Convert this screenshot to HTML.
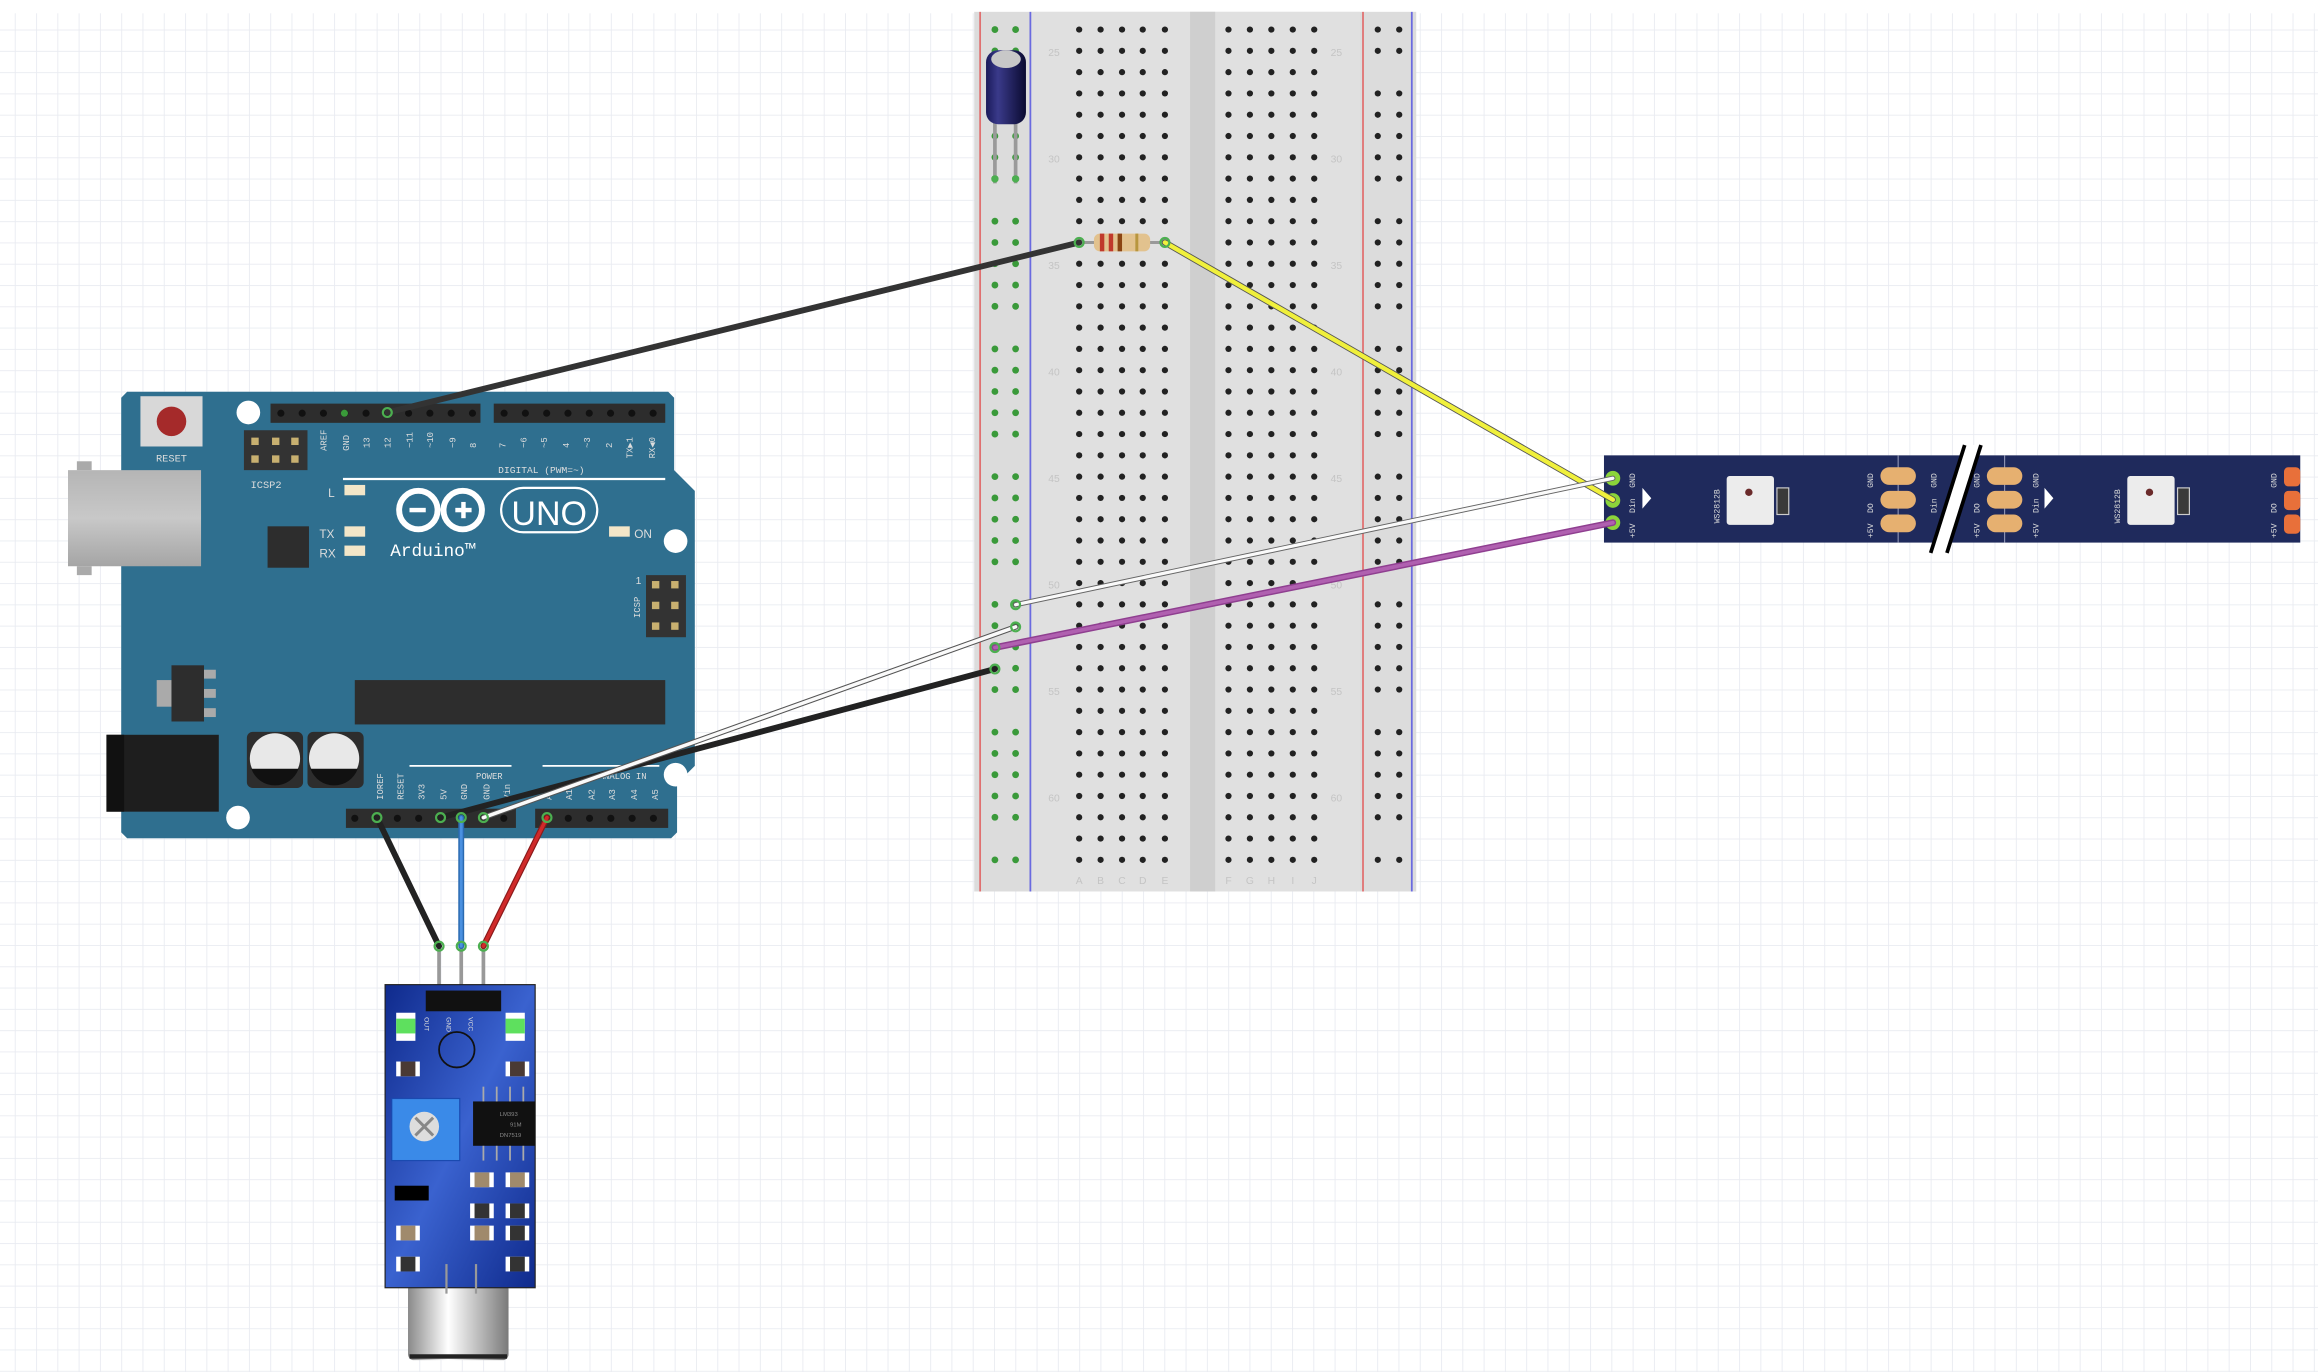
<!DOCTYPE html>
<html><head><meta charset="utf-8"><style>html,body{margin:0;padding:0;background:#fff}svg{display:block}</style></head>
<body>
<svg width="2318" height="1372" viewBox="0 0 1568 928" preserveAspectRatio="none" xmlns="http://www.w3.org/2000/svg" font-family="Liberation Sans, sans-serif">
<defs>
<pattern id="grid" x="10" y="20" width="14.4" height="14.4" patternUnits="userSpaceOnUse">
<path d="M0 0H14.4M0 0V14.4" stroke="#e9ebf1" stroke-width="1.2" fill="none"/>
</pattern>
<linearGradient id="sens" x1="0" y1="0" x2="1" y2="1"><stop offset="0" stop-color="#0f2a8c"/><stop offset="0.5" stop-color="#3a62cf"/><stop offset="1" stop-color="#0f2a8c"/></linearGradient>
<linearGradient id="mic" x1="0" y1="0" x2="1" y2="0"><stop offset="0" stop-color="#8a8a8a"/><stop offset="0.4" stop-color="#ffffff"/><stop offset="1" stop-color="#7a7a7a"/></linearGradient>
<linearGradient id="usb" x1="0" y1="0" x2="0" y2="1"><stop offset="0" stop-color="#b5b5b5"/><stop offset="0.5" stop-color="#c8c8c8"/><stop offset="1" stop-color="#a5a5a5"/></linearGradient>
<linearGradient id="cap" x1="0" y1="0" x2="1" y2="0"><stop offset="0" stop-color="#1a1a5a"/><stop offset="0.3" stop-color="#3a3a8a"/><stop offset="1" stop-color="#0a0a30"/></linearGradient>
</defs>
<rect x="0" y="0" width="1568" height="928" fill="#fff"/>
<rect x="0" y="9" width="1568" height="919" fill="url(#grid)"/>

<g id="bb">
<rect x="659" y="8" width="299" height="595" fill="#dcdcdc"/>
<rect x="697" y="8" width="223" height="595" fill="#e0e0e0"/>
<rect x="805" y="8" width="17" height="595" fill="#cfcfcf"/>
<line x1="663" y1="8" x2="663" y2="603" stroke="#e07070" stroke-width="1.2"/>
<line x1="697" y1="8" x2="697" y2="603" stroke="#6a6ae0" stroke-width="1.2"/>
<line x1="922" y1="8" x2="922" y2="603" stroke="#e07070" stroke-width="1.2"/>
<line x1="955" y1="8" x2="955" y2="603" stroke="#6a6ae0" stroke-width="1.2"/>
<g id="holes"></g>
<g fill="#c4c4c4" font-size="7" text-anchor="middle">
<text x="713" y="38">25</text><text x="713" y="110">30</text><text x="713" y="182">35</text><text x="713" y="254">40</text><text x="713" y="326">45</text><text x="713" y="398">50</text><text x="713" y="470">55</text><text x="713" y="542">60</text>
<text x="904" y="38">25</text><text x="904" y="110">30</text><text x="904" y="182">35</text><text x="904" y="254">40</text><text x="904" y="326">45</text><text x="904" y="398">50</text><text x="904" y="470">55</text><text x="904" y="542">60</text>
<text x="730" y="598">A</text><text x="744.5" y="598">B</text><text x="759" y="598">C</text><text x="773" y="598">D</text><text x="788" y="598">E</text>
<text x="831" y="598">F</text><text x="845.5" y="598">G</text><text x="860" y="598">H</text><text x="874.5" y="598">I</text><text x="889" y="598">J</text>
</g>
</g>

<line x1="673" y1="80" x2="673" y2="124" stroke="#9a9a9a" stroke-width="2.5"/>
<line x1="687" y1="80" x2="687" y2="124" stroke="#9a9a9a" stroke-width="2.5"/>
<circle cx="673" cy="121" r="2.5" fill="#4caf50"/><circle cx="687" cy="121" r="2.5" fill="#4caf50"/>
<rect x="667" y="34" width="27" height="50" rx="8" fill="url(#cap)"/>
<ellipse cx="680.5" cy="40" rx="10" ry="6" fill="#c8c8c8"/>

<line x1="730" y1="164" x2="788" y2="164" stroke="#999" stroke-width="2"/>
<rect x="740" y="158" width="38" height="12" rx="4" fill="#e2c28e"/>
<rect x="744" y="158" width="3" height="12" fill="#c0392b"/>
<rect x="750" y="158" width="3" height="12" fill="#c0392b"/>
<rect x="756" y="158" width="3" height="12" fill="#8b4513"/>
<rect x="768" y="158" width="2" height="12" fill="#b8963e"/>

<g id="ard">
<path d="M86 265 H452 L456 269 V318 L470 332 V518 L458 530 V563 L454 567 H86 L82 563 V269 Z" fill="#2f6f8f"/>
<rect x="46" y="318" width="90" height="65" fill="url(#usb)"/>
<rect x="52" y="312" width="10" height="6" fill="#aaa"/><rect x="52" y="383" width="10" height="6" fill="#aaa"/>
<rect x="72" y="497" width="76" height="52" fill="#1e1e1e"/>
<rect x="72" y="497" width="12" height="52" fill="#111"/>
<rect x="95" y="268" width="42" height="34" fill="#d8d8d8"/>
<circle cx="116" cy="285" r="10" fill="#a52a2a"/>
<text x="116" y="312" font-size="7" fill="#ddd" text-anchor="middle" font-family="Liberation Mono, monospace">RESET</text>
<circle cx="168" cy="279" r="8" fill="#fff"/>
<circle cx="457" cy="366" r="8" fill="#fff"/>
<circle cx="457" cy="524" r="8" fill="#fff"/>
<circle cx="161" cy="553" r="8" fill="#fff"/>
<rect x="165" y="291" width="43" height="27" fill="#333"/>
<g fill="#c8b070"><rect x="170" y="296" width="5" height="5"/><rect x="184" y="296" width="5" height="5"/><rect x="197" y="296" width="5" height="5"/><rect x="170" y="308" width="5" height="5"/><rect x="184" y="308" width="5" height="5"/><rect x="197" y="308" width="5" height="5"/></g>
<text x="180" y="330" font-size="7" fill="#ddd" text-anchor="middle" font-family="Liberation Mono, monospace">ICSP2</text>
<rect x="437" y="389" width="27" height="42" fill="#333"/>
<g fill="#c8b070"><rect x="441" y="393" width="5" height="5"/><rect x="454" y="393" width="5" height="5"/><rect x="441" y="407" width="5" height="5"/><rect x="454" y="407" width="5" height="5"/><rect x="441" y="421" width="5" height="5"/><rect x="454" y="421" width="5" height="5"/></g>
<text x="430" y="395" font-size="7" fill="#ddd">1</text>
<text x="433" y="418" font-size="6" fill="#ddd" transform="rotate(-90 433 418)" font-family="Liberation Mono, monospace">ICSP</text>
<rect x="183" y="273" width="142" height="13" fill="#2d2d2d"/>
<rect x="334" y="273" width="116" height="13" fill="#2d2d2d"/>
<g id="toppins"></g>
<rect x="234" y="547" width="115" height="13" fill="#2d2d2d"/>
<rect x="362" y="547" width="90" height="13" fill="#2d2d2d"/>
<g id="botpins"></g>
<g font-size="6" fill="#ddd" font-family="Liberation Mono, monospace">
<text x="221" y="305" transform="rotate(-90 221 305)">AREF</text>
<text x="236" y="305" transform="rotate(-90 236 305)">GND</text>
<text x="250" y="303" transform="rotate(-90 250 303)">13</text>
<text x="264" y="303" transform="rotate(-90 264 303)">12</text>
<text x="279" y="303" transform="rotate(-90 279 303)">~11</text>
<text x="293" y="303" transform="rotate(-90 293 303)">~10</text>
<text x="308" y="303" transform="rotate(-90 308 303)">~9</text>
<text x="322" y="303" transform="rotate(-90 322 303)">8</text>
<text x="342" y="303" transform="rotate(-90 342 303)">7</text>
<text x="356" y="303" transform="rotate(-90 356 303)">~6</text>
<text x="370" y="303" transform="rotate(-90 370 303)">~5</text>
<text x="385" y="303" transform="rotate(-90 385 303)">4</text>
<text x="399" y="303" transform="rotate(-90 399 303)">~3</text>
<text x="414" y="303" transform="rotate(-90 414 303)">2</text>
<text x="428" y="310" transform="rotate(-90 428 310)">TX▶1</text>
<text x="443" y="310" transform="rotate(-90 443 310)">RX◀0</text>
<text x="337" y="320" font-size="6.5">DIGITAL (PWM=~)</text>
<text x="259" y="541" transform="rotate(-90 259 541)">IOREF</text>
<text x="273" y="541" transform="rotate(-90 273 541)">RESET</text>
<text x="287" y="541" transform="rotate(-90 287 541)">3V3</text>
<text x="302" y="541" transform="rotate(-90 302 541)">5V</text>
<text x="316" y="541" transform="rotate(-90 316 541)">GND</text>
<text x="331" y="541" transform="rotate(-90 331 541)">GND</text>
<text x="345" y="541" transform="rotate(-90 345 541)">Vin</text>
<text x="322" y="527">POWER</text>
<text x="405" y="527">ANALOG IN</text>
<text x="373" y="541" transform="rotate(-90 373 541)">A0</text>
<text x="387" y="541" transform="rotate(-90 387 541)">A1</text>
<text x="402" y="541" transform="rotate(-90 402 541)">A2</text>
<text x="416" y="541" transform="rotate(-90 416 541)">A3</text>
<text x="431" y="541" transform="rotate(-90 431 541)">A4</text>
<text x="445" y="541" transform="rotate(-90 445 541)">A5</text>
</g>
<line x1="232" y1="324" x2="450" y2="324" stroke="#fff" stroke-width="1.5"/>
<line x1="277" y1="518" x2="346" y2="518" stroke="#fff" stroke-width="1.2"/>
<line x1="367" y1="518" x2="446" y2="518" stroke="#fff" stroke-width="1.2"/>
<rect x="233" y="328" width="14" height="7" fill="#f3e6c8"/><text x="222" y="336" font-size="8" fill="#ddd">L</text>
<rect x="233" y="356" width="14" height="7" fill="#f3e6c8"/><text x="216" y="364" font-size="8" fill="#ddd">TX</text>
<rect x="233" y="369" width="14" height="7" fill="#f3e6c8"/><text x="216" y="377" font-size="8" fill="#ddd">RX</text>
<rect x="412" y="356" width="14" height="7" fill="#f3e6c8"/><text x="429" y="364" font-size="8" fill="#ddd">ON</text>
<rect x="181" y="356" width="28" height="28" fill="#2d2d2d"/>
<g fill="none" stroke="#fff" stroke-width="4">
<circle cx="283" cy="345" r="13"/><circle cx="313" cy="345" r="13"/>
</g>
<rect x="277" y="343.5" width="11" height="3" fill="#fff"/>
<rect x="308" y="343.5" width="11" height="3" fill="#fff"/><rect x="312" y="339.5" width="3" height="11" fill="#fff"/>
<rect x="339" y="330" width="65" height="30" rx="15" fill="none" stroke="#fff" stroke-width="1.5"/>
<text x="371.5" y="355" font-size="23" fill="#fff" text-anchor="middle">UNO</text>
<text x="264" y="376" font-size="12" fill="#fff" font-family="Liberation Mono, monospace">Arduino™</text>
<rect x="106" y="460" width="10" height="18" fill="#aaa"/>
<rect x="116" y="450" width="22" height="38" fill="#2d2d2d"/>
<rect x="138" y="453" width="8" height="6" fill="#aaa"/><rect x="138" y="466" width="8" height="6" fill="#aaa"/><rect x="138" y="479" width="8" height="6" fill="#aaa"/>
<rect x="240" y="460" width="210" height="30" fill="#2d2d2d"/>
<rect x="167" y="495" width="38" height="38" rx="4" fill="#2d2d2d"/>
<rect x="208" y="495" width="38" height="38" rx="4" fill="#2d2d2d"/>
<circle cx="186" cy="513" r="17" fill="#e8e8e8"/><circle cx="226" cy="513" r="17" fill="#e8e8e8"/>
<path d="M170 520 A17 17 0 0 0 202 520 Z" fill="#111"/>
<path d="M210 520 A17 17 0 0 0 242 520 Z" fill="#111"/>
</g>

<g id="strip">
<rect x="1085" y="308" width="471" height="59" fill="#1f2a5c"/>
<line x1="1284" y1="308" x2="1284" y2="367" stroke="#8a90b0" stroke-width="0.8"/>
<line x1="1356" y1="308" x2="1356" y2="367" stroke="#8a90b0" stroke-width="0.8"/>
<g fill="#e6b070">
<rect x="1272" y="316" width="24" height="12" rx="6"/><rect x="1272" y="332" width="24" height="12" rx="6"/><rect x="1272" y="348" width="24" height="12" rx="6"/>
<rect x="1344" y="316" width="24" height="12" rx="6"/><rect x="1344" y="332" width="24" height="12" rx="6"/><rect x="1344" y="348" width="24" height="12" rx="6"/>
</g>
<g fill="#e8703a"><rect x="1545" y="316" width="11" height="13" rx="3"/><rect x="1545" y="332" width="11" height="13" rx="3"/><rect x="1545" y="348" width="11" height="13" rx="3"/></g>
<rect x="1168" y="322" width="32" height="33" rx="2" fill="#ececec"/>
<circle cx="1183" cy="333" r="2.5" fill="#6a2a2a"/>
<rect x="1202" y="330" width="8" height="18" fill="#3a3a3a" stroke="#ccc" stroke-width="0.8"/>
<rect x="1439" y="322" width="32" height="33" rx="2" fill="#ececec"/>
<circle cx="1454" cy="333" r="2.5" fill="#6a2a2a"/>
<rect x="1473" y="330" width="8" height="18" fill="#3a3a3a" stroke="#ccc" stroke-width="0.8"/>
<polygon points="1111,330 1117,337 1111,344" fill="#fff"/>
<polygon points="1383,330 1389,337 1383,344" fill="#fff"/>
<g font-size="5.5" fill="#ddd" font-family="Liberation Mono, monospace">
<text x="1106" y="330" transform="rotate(-90 1106 330)">GND</text>
<text x="1106" y="347" transform="rotate(-90 1106 347)">Din</text>
<text x="1106" y="364" transform="rotate(-90 1106 364)">+5V</text>
<text x="1163" y="354" transform="rotate(-90 1163 354)">WS2812B</text>
<text x="1267" y="330" transform="rotate(-90 1267 330)">GND</text>
<text x="1267" y="347" transform="rotate(-90 1267 347)">DO</text>
<text x="1267" y="364" transform="rotate(-90 1267 364)">+5V</text>
<text x="1310" y="330" transform="rotate(-90 1310 330)">GND</text>
<text x="1310" y="347" transform="rotate(-90 1310 347)">Din</text>
<text x="1339" y="330" transform="rotate(-90 1339 330)">GND</text>
<text x="1339" y="347" transform="rotate(-90 1339 347)">DO</text>
<text x="1339" y="364" transform="rotate(-90 1339 364)">+5V</text>
<text x="1379" y="330" transform="rotate(-90 1379 330)">GND</text>
<text x="1379" y="347" transform="rotate(-90 1379 347)">Din</text>
<text x="1379" y="364" transform="rotate(-90 1379 364)">+5V</text>
<text x="1434" y="354" transform="rotate(-90 1434 354)">WS2812B</text>
<text x="1540" y="330" transform="rotate(-90 1540 330)">GND</text>
<text x="1540" y="347" transform="rotate(-90 1540 347)">DO</text>
<text x="1540" y="364" transform="rotate(-90 1540 364)">+5V</text>
</g>
<polygon points="1329,301 1340,301 1317,374 1306,374" fill="#fff"/>
<line x1="1329" y1="301" x2="1306" y2="374" stroke="#000" stroke-width="2.5"/>
<line x1="1340" y1="301" x2="1317" y2="374" stroke="#000" stroke-width="2.5"/>
<circle cx="1091" cy="323.5" r="5" fill="#8bd43a"/>
<circle cx="1091" cy="338.5" r="5" fill="#8bd43a"/>
<circle cx="1091" cy="353.5" r="5" fill="#8bd43a"/>
</g>

<g id="sensor">
<line x1="297" y1="640" x2="297" y2="675" stroke="#999" stroke-width="2.5"/>
<line x1="312" y1="640" x2="312" y2="675" stroke="#999" stroke-width="2.5"/>
<line x1="327" y1="640" x2="327" y2="675" stroke="#999" stroke-width="2.5"/>
<rect x="276" y="868" width="68" height="52" rx="4" fill="url(#mic)"/>
<rect x="277" y="916" width="66" height="3" fill="#222"/>
<rect x="260.5" y="666" width="101.5" height="205" fill="url(#sens)" stroke="#222" stroke-width="0.8"/>
<line x1="302" y1="855" x2="302" y2="875" stroke="#999" stroke-width="1.5"/>
<line x1="322" y1="855" x2="322" y2="875" stroke="#999" stroke-width="1.5"/>
<rect x="288" y="670" width="51" height="14" fill="#111"/>
<g font-size="4.5" fill="#ddd"><text x="295" y="696" transform="rotate(90 295 688)">OUT</text><text x="310" y="696" transform="rotate(90 310 688)">GND</text><text x="325" y="696" transform="rotate(90 325 688)">VCC</text></g>
<rect x="268" y="685" width="13" height="19" fill="#fff"/><rect x="268" y="689" width="13" height="10" fill="#5ee05e"/>
<rect x="342" y="685" width="13" height="19" fill="#fff"/><rect x="342" y="689" width="13" height="10" fill="#5ee05e"/>
<circle cx="309" cy="710" r="12" fill="none" stroke="#111" stroke-width="1.2"/>
<rect x="265" y="743" width="46" height="42" fill="#3a8ae8" stroke="#1a4ab0" stroke-width="0.8"/>
<circle cx="287" cy="762" r="10" fill="#ddd"/>
<path d="M281 756L293 768M293 756L281 768" stroke="#888" stroke-width="2"/>
<rect x="320" y="745" width="42" height="30" fill="#111"/>
<g font-size="4" fill="#888"><text x="338" y="755">LM393</text><text x="345" y="762">91M</text><text x="338" y="769">DN7519</text></g>
<g stroke="#aaa" stroke-width="1.2"><line x1="327" y1="735" x2="327" y2="745"/><line x1="336" y1="735" x2="336" y2="745"/><line x1="345" y1="735" x2="345" y2="745"/><line x1="354" y1="735" x2="354" y2="745"/><line x1="327" y1="775" x2="327" y2="785"/><line x1="336" y1="775" x2="336" y2="785"/><line x1="345" y1="775" x2="345" y2="785"/><line x1="354" y1="775" x2="354" y2="785"/></g>
<rect x="267" y="802" width="23" height="10" fill="#000"/>
<g id="smd"></g>
</g>

<g stroke-linecap="round" fill="none">
<line x1="262" y1="279" x2="730" y2="164" stroke="#333" stroke-width="4"/>
<line x1="788" y1="164" x2="1091" y2="338" stroke="#555" stroke-width="4.2"/>
<line x1="788" y1="164" x2="1091" y2="338" stroke="#f0f03c" stroke-width="3"/>
<line x1="687" y1="409" x2="1091" y2="323.5" stroke="#666" stroke-width="3.5"/>
<line x1="687" y1="409" x2="1091" y2="323.5" stroke="#fafafa" stroke-width="2.2"/>
<line x1="673" y1="438" x2="1091" y2="353.5" stroke="#8f3f90" stroke-width="4.5"/>
<line x1="673" y1="438" x2="1091" y2="353.5" stroke="#b060b0" stroke-width="2.5"/>
<line x1="298" y1="553" x2="673" y2="452.5" stroke="#222" stroke-width="4"/>
<line x1="327" y1="553" x2="687" y2="424" stroke="#555" stroke-width="3.8"/>
<line x1="327" y1="553" x2="687" y2="424" stroke="#fafafa" stroke-width="2.4"/>
<line x1="255" y1="553" x2="297" y2="640" stroke="#222" stroke-width="4"/>
<line x1="312" y1="553" x2="312" y2="640" stroke="#2a6ab0" stroke-width="4"/>
<line x1="312" y1="553" x2="312" y2="640" stroke="#4a90e0" stroke-width="2"/>
<line x1="370" y1="553" x2="327" y2="640" stroke="#8a1a1a" stroke-width="4"/>
<line x1="370" y1="553" x2="327" y2="640" stroke="#d02a2a" stroke-width="2.4"/>
</g>
<g fill="none" stroke="#4caf50" stroke-width="1.5">
<circle cx="730" cy="164" r="3"/><circle cx="788" cy="164" r="3"/>
<circle cx="687" cy="409" r="3"/><circle cx="687" cy="424" r="3"/><circle cx="673" cy="438" r="3"/><circle cx="673" cy="452.5" r="3"/>
<circle cx="262" cy="279" r="3"/><circle cx="255" cy="553" r="3"/><circle cx="298" cy="553" r="3"/><circle cx="312" cy="553" r="3"/><circle cx="327" cy="553" r="3"/><circle cx="370" cy="553" r="3"/>
<circle cx="297" cy="640" r="3"/><circle cx="312" cy="640" r="3"/><circle cx="327" cy="640" r="3"/>
</g>
</svg>
<script>
var NS="http://www.w3.org/2000/svg";
function c(g,x,y,r,f){var e=document.createElementNS(NS,"circle");e.setAttribute("cx",x);e.setAttribute("cy",y);e.setAttribute("r",r);e.setAttribute("fill",f);g.appendChild(e);}
function rc(g,x,y,w,h,f){var e=document.createElementNS(NS,"rect");e.setAttribute("x",x);e.setAttribute("y",y);e.setAttribute("width",w);e.setAttribute("height",h);e.setAttribute("fill",f);g.appendChild(e);}
var H=document.getElementById("holes");
var L=[730,744.5,759,773,788],R=[831,845.5,860,874.5,889];
for(var k=0;k<40;k++){var y=20+14.4*k;
 L.concat(R).forEach(function(x){c(H,x,y,2.1,"#222");});
 if(k%6!=2){c(H,673,y,2.3,"#3a9a3a");c(H,687,y,2.3,"#3a9a3a");c(H,932,y,2.1,"#222");c(H,946.5,y,2.1,"#222");}
}
var T=document.getElementById("toppins");
for(var i=0;i<10;i++){c(T,190+14.4*i,279.5,2.4,"#111");}
for(var i=0;i<8;i++){c(T,341+14.4*i,279.5,2.4,"#111");}
c(T,233,279.5,2.4,"#3a9a3a");
var B=document.getElementById("botpins");
for(var i=0;i<8;i++){c(B,240+14.4*i,553.5,2.4,"#111");}
for(var i=0;i<6;i++){c(B,370+14.4*i,553.5,2.4,"#111");}
var S=document.getElementById("smd");
[[268,718,"#4a3a34"],[342,718,"#4a3a34"],[318,793,"#a08a6c"],[342,793,"#a08a6c"],[318,814,"#333"],[342,814,"#333"],[268,829,"#a08a6c"],[318,829,"#a08a6c"],[342,829,"#333"],[268,850,"#333"],[342,850,"#333"]].forEach(function(p){rc(S,p[0],p[1],16,10,"#fff");rc(S,p[0]+3,p[1],10,10,p[2]);});
</script>
</body></html>
